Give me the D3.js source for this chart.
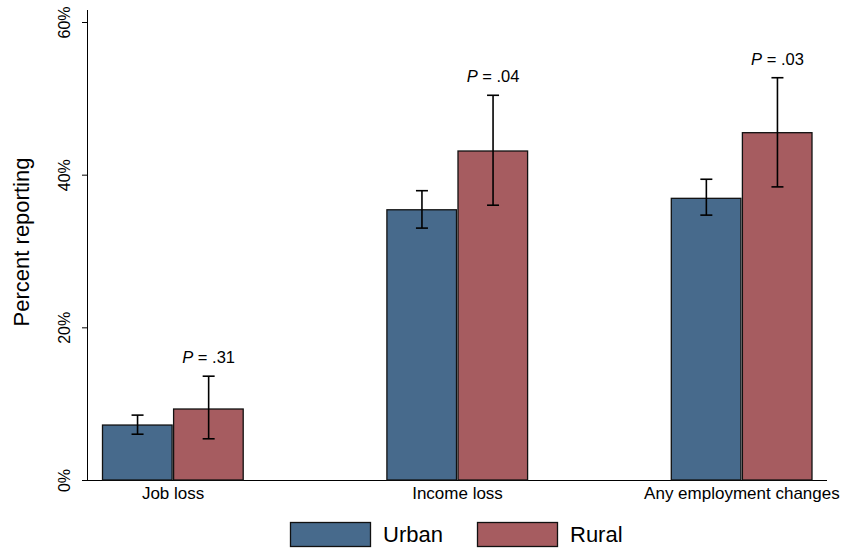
<!DOCTYPE html>
<html>
<head>
<meta charset="utf-8">
<script src="https://cdn.jsdelivr.net/npm/d3@7"></script>
<style>
  body { margin: 0; background: #fff; }
  svg { display: block; font-family: "Liberation Sans", Arial, sans-serif; }
</style>
</head>
<body>
<svg width="843" height="549"></svg>
<script>
// data
const categories = ["Job loss", "Income loss", "Any employment changes"];
const groups = ["Urban", "Rural"];
const urbanValues = [7.2, 35.4, 36.9];
const urbanLow = [6.0, 33.0, 34.7];
const urbanHigh = [8.5, 37.9, 39.4];
const ruralValues = [9.3, 43.1, 45.5];
const ruralLow = [5.4, 36.0, 38.4];
const ruralHigh = [13.6, 50.4, 52.7];
const pLabels = [".31", ".04", ".03"];
const yTicks = [0, 20, 40, 60];

const colors = {Urban: "#476a8c", Rural: "#a65c60"};

let svg = d3.select("svg");

let rows = [];
categories.forEach((c, i) => {
    rows.push({cat: c, group: "Urban", v: urbanValues[i], lo: urbanLow[i], hi: urbanHigh[i]});
    rows.push({cat: c, group: "Rural", v: ruralValues[i], lo: ruralLow[i], hi: ruralHigh[i]});
});

// scales
let y = d3.scaleLinear().domain([0, 60]).range([480, 22]);
let x0 = d3.scaleBand().domain(categories).range([102, 813]).paddingInner(0.5);
let x1 = d3.scaleBand().domain(groups).range([0, x0.bandwidth()]);

// axes
let yAxis = svg.append("g")
    .attr("transform", "translate(88,0)")
    .call(d3.axisLeft(y).tickValues(yTicks).tickSize(6).tickFormat(d => d + "%"));
yAxis.select(".domain").attr("d", "M-0.5," + y(0) + "V10").attr("stroke", "#000");
yAxis.selectAll(".tick line").attr("stroke", "#000");
yAxis.selectAll(".tick text")
    .attr("font-size", 16)
    .attr("fill", "#000")
    .attr("transform", "rotate(-90)")
    .attr("x", 0)
    .attr("y", -18)
    .attr("dy", "0")
    .attr("text-anchor", "middle");

let xAxis = svg.append("g")
    .attr("transform", "translate(0," + y(0) + ")")
    .call(d3.axisBottom(x0).tickSize(0).tickPadding(5));
xAxis.select(".domain").attr("d", "M88,0.5H827").attr("stroke", "#000");
xAxis.selectAll(".tick text").attr("font-size", 17).attr("fill", "#000").attr("dy", "0.8em");

svg.append("text")
    .attr("transform", "translate(29,242) rotate(-90)")
    .attr("text-anchor", "middle")
    .attr("font-size", 22)
    .text("Percent reporting");

// bars
let bars = svg.append("g").selectAll("rect")
    .data(rows)
    .enter().append("rect")
    .attr("x", d => x0(d.cat) + x1(d.group) + 0.5)
    .attr("y", d => y(d.v))
    .attr("width", x1.bandwidth() - 1.5)
    .attr("height", d => y(0) - y(d.v))
    .attr("fill", d => colors[d.group])
    .attr("stroke", "#111")
    .attr("stroke-width", 1.3);

// error bars
let err = svg.append("g").attr("stroke", "#000").attr("stroke-width", 1.6);
rows.forEach(d => {
    let cx = x0(d.cat) + x1(d.group) + x1.bandwidth() / 2;
    err.append("line").attr("x1", cx).attr("x2", cx).attr("y1", y(d.lo)).attr("y2", y(d.hi));
    err.append("line").attr("x1", cx - 6).attr("x2", cx + 6).attr("y1", y(d.lo)).attr("y2", y(d.lo));
    err.append("line").attr("x1", cx - 6).attr("x2", cx + 6).attr("y1", y(d.hi)).attr("y2", y(d.hi));
});

// p-values
categories.forEach((c, i) => {
    let cx = x0(c) + x1("Rural") + x1.bandwidth() / 2;
    let t = svg.append("text")
        .attr("x", cx)
        .attr("y", y(ruralHigh[i]) - 13)
        .attr("text-anchor", "middle")
        .attr("font-size", 16.5);
    t.append("tspan").attr("font-style", "italic").text("P");
    t.append("tspan").text(" = " + pLabels[i]);
});

// legend
let legend = svg.append("g").attr("transform", "translate(290,522)");
groups.forEach((g, i) => {
    let lg = legend.append("g").attr("transform", "translate(" + (i * 187) + ",0)");
    lg.append("rect")
        .attr("x", 0.5).attr("y", 0.5)
        .attr("width", 80).attr("height", 24)
        .attr("fill", colors[g])
        .attr("stroke", "#111")
        .attr("stroke-width", 1.3);
    lg.append("text")
        .attr("x", 93).attr("y", 20)
        .attr("font-size", 22)
        .text(g);
});
</script>
</body>
</html>
